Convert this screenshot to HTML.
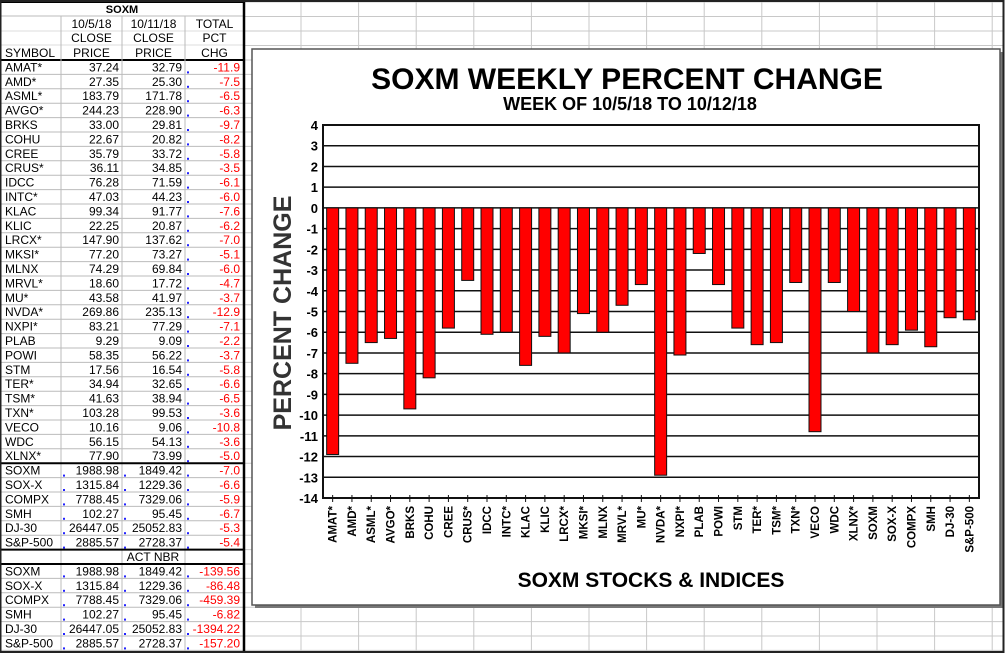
<!DOCTYPE html>
<html><head><meta charset="utf-8">
<style>
html,body{margin:0;padding:0;background:#fff;}
svg{display:block;font-family:"Liberation Sans",Arial,sans-serif;}
</style></head>
<body>
<svg id="root" width="1005" height="655" viewBox="0 0 1005 655">
  <rect x="0" y="0" width="1005" height="655" fill="#fff"/>
  <g id="bggrid"></g>
  <g id="table"></g>
  <!-- chart panel -->
  <rect x="255" y="52" width="748" height="556" fill="#777"/>
  <rect x="252" y="49" width="748" height="556" fill="#fff" stroke="#555" stroke-width="1.5"/>
  <text x="627" y="89" font-size="30" font-weight="bold" text-anchor="middle">SOXM WEEKLY PERCENT CHANGE</text>
  <text x="630" y="110" font-size="18" font-weight="bold" text-anchor="middle">WEEK OF 10/5/18 TO 10/12/18</text>
  <text transform="translate(291,313) rotate(-90)" font-size="25" font-weight="bold" fill="#333" text-anchor="middle">PERCENT CHANGE</text>
  <text x="651" y="587" font-size="21" font-weight="bold" text-anchor="middle">SOXM STOCKS &amp; INDICES</text>
  <g id="chart"></g>
  <rect x="0.5" y="1" width="1003" height="651" fill="none" stroke="#222" stroke-width="2"/>
</svg>
<script>
const categories=["AMAT*","AMD*","ASML*","AVGO*","BRKS","COHU","CREE","CRUS*","IDCC","INTC*","KLAC","KLIC","LRCX*","MKSI*","MLNX","MRVL*","MU*","NVDA*","NXPI*","PLAB","POWI","STM","TER*","TSM*","TXN*","VECO","WDC","XLNX*","SOXM","SOX-X","COMPX","SMH","DJ-30","S&P-500"];
const pctChange=[-11.9,-7.5,-6.5,-6.3,-9.7,-8.2,-5.8,-3.5,-6.1,-6.0,-7.6,-6.2,-7.0,-5.1,-6.0,-4.7,-3.7,-12.9,-7.1,-2.2,-3.7,-5.8,-6.6,-6.5,-3.6,-10.8,-3.6,-5.0,-7.0,-6.6,-5.9,-6.7,-5.3,-5.4];
const close1=["37.24","27.35","183.79","244.23","33.00","22.67","35.79","36.11","76.28","47.03","99.34","22.25","147.90","77.20","74.29","18.60","43.58","269.86","83.21","9.29","58.35","17.56","34.94","41.63","103.28","10.16","56.15","77.90","1988.98","1315.84","7788.45","102.27","26447.05","2885.57"];
const close2=["32.79","25.30","171.78","228.90","29.81","20.82","33.72","34.85","71.59","44.23","91.77","20.87","137.62","73.27","69.84","17.72","41.97","235.13","77.29","9.09","56.22","16.54","32.65","38.94","99.53","9.06","54.13","73.99","1849.42","1229.36","7329.06","95.45","25052.83","2728.37"];
const actSymbols=["SOXM","SOX-X","COMPX","SMH","DJ-30","S&P-500"];
const actChange=["-139.56","-86.48","-459.39","-6.82","-1394.22","-157.20"];
const yTicks=[4,3,2,1,0,-1,-2,-3,-4,-5,-6,-7,-8,-9,-10,-11,-12,-13,-14];

const NS="http://www.w3.org/2000/svg";
function mk(parent,tag,attrs,txt){const e=document.createElementNS(NS,tag);for(const k in attrs)e.setAttribute(k,attrs[k]);if(txt!==undefined)e.textContent=txt;parent.appendChild(e);return e;}

// background grid
const bg=document.getElementById('bggrid');
for(let x=301;x<1000;x+=57.6){const l=mk(bg,'line',{x1:x,y1:2,x2:x,y2:651,stroke:'#c8c8c8','stroke-width':1});

}
for(let y=2;y<652;y+=(y<60?14.5:14.4)){const l=mk(bg,'line',{x1:245,y1:y,x2:1004,y2:y,stroke:'#c8c8c8','stroke-width':1});

}

// table
const tb=document.getElementById('table');
const colX=[0,61,122,185,244];
const rowH=14.4, rowY0=60;
// header
const hdr=[[ "", "10/5/18","10/11/18","TOTAL"],["","CLOSE","CLOSE","PCT"],["SYMBOL","PRICE","PRICE","CHG"]];
const hy=[16,31,45,60];
mk(tb,'line',{x1:0,y1:hy[0],x2:244,y2:hy[0],stroke:'#bbb'});
for(let r=0;r<3;r++){mk(tb,'line',{x1:0,y1:hy[r+1],x2:244,y2:hy[r+1],stroke:r==2?'#000':'#ddd','stroke-width':r==2?2:1});
 for(let c=0;c<4;c++){if(!hdr[r][c])continue;
  const t=mk(tb,'text',{x:c==0?5:(colX[c]+colX[c+1])/2,y:hy[r+1]-3,'font-size':12,'text-anchor':c==0?'start':'middle'},hdr[r][c]);
  
  }}
const st=mk(tb,'text',{x:122,y:13,'font-size':11,'font-weight':'bold','text-anchor':'middle'},'SOXM');


for(let c=1;c<4;c++)mk(tb,'line',{x1:colX[c],y1:hy[0],x2:colX[c],y2:651,stroke:'#bbb'});
function row(i,sym,a,b,v,blue){
  const y=rowY0+i*rowH;
  mk(tb,'line',{x1:0,y1:y+rowH,x2:244,y2:y+rowH,stroke:'#bbb'});
  const g=mk(tb,'g',{});
  
  
  const by=y+rowH-3;
  mk(g,'text',{x:5,y:by,'font-size':12},sym);
  if(a)mk(g,'text',{x:119,y:by,'font-size':12,'text-anchor':'end'},a);
  if(b)mk(g,'text',{x:182,y:by,'font-size':12,'text-anchor':'end'},b);
  if(v)mk(g,'text',{x:240,y:by,'font-size':12,'text-anchor':'end',fill:'#f00'},v);
  if(blue){for(const c of blue)mk(g,'rect',{x:colX[c]+2,y:y+rowH-3,width:2,height:2,fill:'#22f'});}
}
for(let i=0;i<34;i++){row(i,categories[i],close1[i],close2[i],pctChange[i].toFixed(1),i>=28?[1,2,3]:[3]);}
// ACT NBR row
{const y=rowY0+34*rowH;mk(tb,'line',{x1:0,y1:y,x2:244,y2:y,stroke:'#000','stroke-width':2});
 const t=mk(tb,'text',{x:153,y:y+rowH-3,'font-size':12,'text-anchor':'middle'},'ACT NBR');
 
 
 mk(tb,'line',{x1:0,y1:y+rowH,x2:244,y2:y+rowH,stroke:'#000','stroke-width':2});}
{const y=rowY0+28*rowH;mk(tb,'line',{x1:0,y1:y,x2:244,y2:y,stroke:'#000','stroke-width':2});}
for(let i=0;i<6;i++){row(35+i,actSymbols[i],close1[28+i],close2[28+i],actChange[i],[1,2,3]);}
mk(tb,'line',{x1:244,y1:2,x2:244,y2:652,stroke:'#000','stroke-width':2.5});
mk(tb,'line',{x1:0,y1:2,x2:244,y2:2,stroke:'#000','stroke-width':2});

// chart
const ch=document.getElementById('chart');
const PL=323,PR=979,PT=125,PB=498,YMAX=4,YMIN=-14;
const yS=v=>PT+(YMAX-v)*(PB-PT)/(YMAX-YMIN);
const band=(PR-PL)/categories.length;
const xS=i=>PL+band*(i+0.5);
for(const t of yTicks){const y=yS(t);
 if(t!==YMIN){const l=mk(ch,'line',{x1:PL,y1:y,x2:PR,y2:y,stroke:'#111','stroke-width':1.5});
 
 }
 const tx=mk(ch,'text',{x:PL-5,y:y+5,'font-size':13,'font-weight':'bold','text-anchor':'end'},String(t));
 
 }
const bw=12;
categories.forEach((c,i)=>{
 const v=pctChange[i];const y0=yS(0),y1=yS(v);
 const r=mk(ch,'rect',{x:xS(i)-bw/2,y:Math.min(y0,y1),width:bw,height:Math.abs(y1-y0),fill:'#f00',stroke:'#111','stroke-width':1});
 
 
 mk(ch,'line',{x1:xS(i),y1:PB-3,x2:xS(i),y2:PB+4,stroke:'#111','stroke-width':1});
 const t=mk(ch,'text',{transform:`translate(${xS(i)+4},${PB+8}) rotate(-90)`,'font-size':11.5,'font-weight':'bold','text-anchor':'end'},c);
 
 
});
const ax=mk(ch,'rect',{x:PL,y:PT,width:PR-PL,height:PB-PT,fill:'none',stroke:'#111','stroke-width':2});


</script>
</body></html>
